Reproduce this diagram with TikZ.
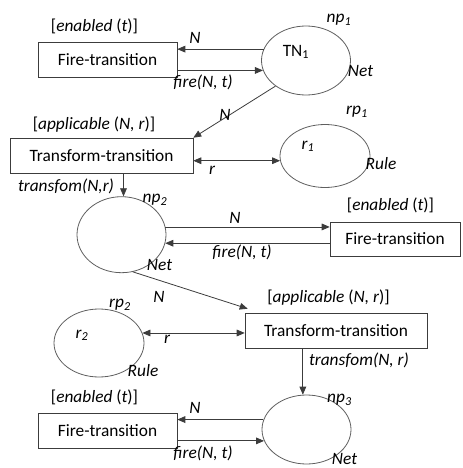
\documentclass[tikz,border=0pt]{standalone}
\usepackage{fontspec}
\setmainfont{Carlito}
\usetikzlibrary{shapes.geometric, arrows.meta}
\definecolor{linegray}{RGB}{60,60,60}
\definecolor{placegray}{RGB}{95,95,95}
\newcommand{\netfont}{\fontsize{13}{15}\selectfont}

\tikzset{
  trans/.style={draw=linegray, rectangle, inner sep=0pt, minimum height=26.25pt},
  place/.style={draw=placegray, line width=0.6pt, ellipse, inner sep=0pt},
  arc/.style={draw=linegray, line width=0.6pt, -{Triangle[length=6pt,width=5pt]}},
  twoway/.style={draw=linegray, line width=0.6pt, {Triangle[length=6pt,width=5pt]}-{Triangle[length=6pt,width=5pt]}},
  lab/.style={font=\netfont\itshape, inner sep=0pt},
}

\begin{document}
\begin{tikzpicture}[x=0.75pt, y=-0.75pt, font=\netfont]
    \useasboundingbox (0,0) rectangle (462,468);

    % Net place np1 with its fire transition
    \node[place, minimum width=66.75pt, minimum height=51.75pt] (tn1) at (306,60.5) {};
    \node (tn1name) at (296,52) {TN\textsubscript{1}};
    \node[lab] (np1) at (339,20) {np\textsubscript{1}};
    \node[lab] (net1) at (360.5,71) {Net};
    \node[trans, minimum width=104.25pt] (fire1) at (107.5,59.5) {Fire-transition};
    \node (en1) at (94.5,26) {[\textit{enabled} (\textit{t})]};
    \draw[arc] (tn1.165) -- (fire1.east |- tn1.165);
    \draw[arc] (fire1.east |- tn1.193) -- (tn1.193);
    \node[lab] (n1) at (195,37.7) {N};
    \node[lab] (fi1) at (203,82.5) {fire(N, t)};

    % Rule place rp1 and first transform transition
    \node[trans, minimum width=137.25pt] (trans1) at (101.5,155.5) {Transform-transition};
    \node (ap1) at (94,125) {[\textit{applicable} (\textit{N, r})]};
    \node[place, minimum width=67.5pt, minimum height=47.25pt] (r1) at (325,156) {};
    \node[lab] (r1name) at (308,146.5) {r\textsubscript{1}};
    \node[lab] (rp1) at (357,112) {rp\textsubscript{1}};
    \node[lab] (rule1) at (381,164) {Rule};
    \draw[arc] (tn1.220) -- (trans1.north east);
    \node[lab] (n2) at (225,115) {N};
    \draw[twoway] (trans1.east |- r1.186) -- (r1.186);
    \node[lab] (rr1) at (212,170) {r};

    % Net place np2
    \node[place, minimum width=66.75pt, minimum height=57pt] (np2) at (121.5,234.7) {};
    \node[lab] (np2lab) at (155,200) {np\textsubscript{2}};
    \node[lab] (net2) at (159.5,265) {Net};
    \draw[arc] (trans1.south -| np2.87) -- (np2.87);
    \node[lab] (tf1) at (66,186.5) {transfom(N,r)};
    \node[trans, minimum width=97.5pt, minimum height=25.5pt] (fire2) at (395,239) {Fire-transition};
    \node (en2) at (390.5,205) {[\textit{enabled} (\textit{t})]};
    \draw[arc] (np2.10) -- (fire2.west |- np2.10);
    \draw[arc] (fire2.west |- np2.349) -- (np2.349);
    \node[lab] (n3) at (235,218) {N};
    \node[lab] (fi2) at (242,252) {fire(N, t)};

    % Rule place rp2 and second transform transition
    \node[trans, minimum width=136.5pt] (trans2) at (336,330.5) {Transform-transition};
    \node (ap2) at (328.5,298) {[\textit{applicable} (\textit{N, r})]};
    \node[place, minimum width=67.5pt, minimum height=51pt] (r2) at (99,343) {};
    \node[lab] (r2name) at (82,335) {r\textsubscript{2}};
    \node[lab] (rp2) at (120,305) {rp\textsubscript{2}};
    \node[lab] (rule2) at (143,370.5) {Rule};
    \draw[arc] (np2.287) -- ([shift={(3,-4)}]trans2.north west);
    \node[lab] (n4) at (159,297) {N};
    \draw[twoway] (r2.13) -- (trans2.west |- r2.13);
    \node[lab] (rr2) at (167,339) {r};

    % Net place np3 with its fire transition
    \node[place, minimum width=66.75pt, minimum height=51.75pt] (np3) at (306.5,429.5) {};
    \node[lab] (np3lab) at (339.5,400) {np\textsubscript{3}};
    \node[lab] (net3) at (344.5,459) {Net};
    \draw[arc] (trans2.south -| np3.96) -- (np3.96);
    \node[lab] (tf2) at (359,360.7) {transfom(N, r)};
    \node[trans, minimum width=104.25pt] (fire3) at (107.5,430.5) {Fire-transition};
    \node (en3) at (94.5,397.3) {[\textit{enabled} (\textit{t})]};
    \draw[arc] (np3.167) -- (fire3.east |- np3.167);
    \draw[arc] (fire3.east |- np3.195) -- (np3.195);
    \node[lab] (n5) at (195,408) {N};
    \node[lab] (fi3) at (203,453) {fire(N, t)};
\end{tikzpicture}
\end{document}
